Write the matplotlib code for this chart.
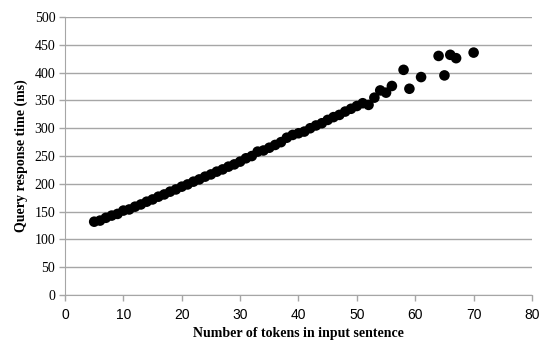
import matplotlib
matplotlib.use("Agg")
import matplotlib.pyplot as plt

# tokens per sentence vs. query response time (ms)
tokens = [5, 6, 7, 8, 9, 10, 11, 12, 13, 14, 15, 16, 17, 18, 19, 20, 21, 22, 23, 24,
          25, 26, 27, 28, 29, 30, 31, 32, 33, 34, 35, 36, 37, 38, 39, 40, 41, 42, 43, 44,
          45, 46, 47, 48, 49, 50, 51, 52, 53, 54, 55, 56, 58, 59, 61, 64, 65, 66, 67, 70]
response_ms = [132, 134, 139, 143, 146, 152, 154, 159, 163, 168, 172, 177, 181, 186, 190,
               195, 199, 204, 208, 213, 217, 222, 226, 231, 235, 240, 246, 250, 258, 260,
               265, 270, 275, 283, 288, 291, 294, 300, 305, 309, 315, 320, 324, 330, 335,
               340, 345, 342, 355, 368, 364, 376, 405, 371, 392, 430, 395, 432, 426, 436]

x_ticks = list(range(0, 81, 10))
y_ticks = list(range(0, 501, 50))

GRID = "#a6a6a6"
SERIF = "Liberation Serif"
SANS = "Liberation Sans"

fig = plt.figure(figsize=(5.39, 3.40), dpi=100)
ax = fig.add_axes([0.1206, 0.132, 0.8664, 0.818])

ax.scatter(tokens, response_ms, s=58, color="black", edgecolors="none", zorder=3)

ax.set_xlim(0, 80)
ax.set_ylim(0, 500)
ax.set_xticks(x_ticks)
ax.set_yticks(y_ticks)
ax.set_xticklabels([str(t) for t in x_ticks], fontfamily=SANS, fontsize=10)
ax.set_yticklabels([str(t) for t in y_ticks], fontfamily=SERIF, fontsize=10)
ax.yaxis.grid(True, color=GRID, linewidth=1.0)
ax.set_axisbelow(True)

for side in ("top", "right"):
    ax.spines[side].set_visible(False)
for side in ("left", "bottom"):
    ax.spines[side].set_color(GRID)
ax.tick_params(axis="both", color=GRID, length=4, width=1.0, direction="out", pad=3)
ax.tick_params(axis="x", pad=5)

ax.set_xlabel("Number of tokens in input sentence", fontfamily=SERIF, fontweight="bold",
              fontsize=10, labelpad=4)
ax.set_ylabel("Query response time (ms)", fontfamily=SERIF, fontweight="bold",
              fontsize=10, labelpad=5)

fig.savefig("out.png", dpi=100, facecolor="white")
